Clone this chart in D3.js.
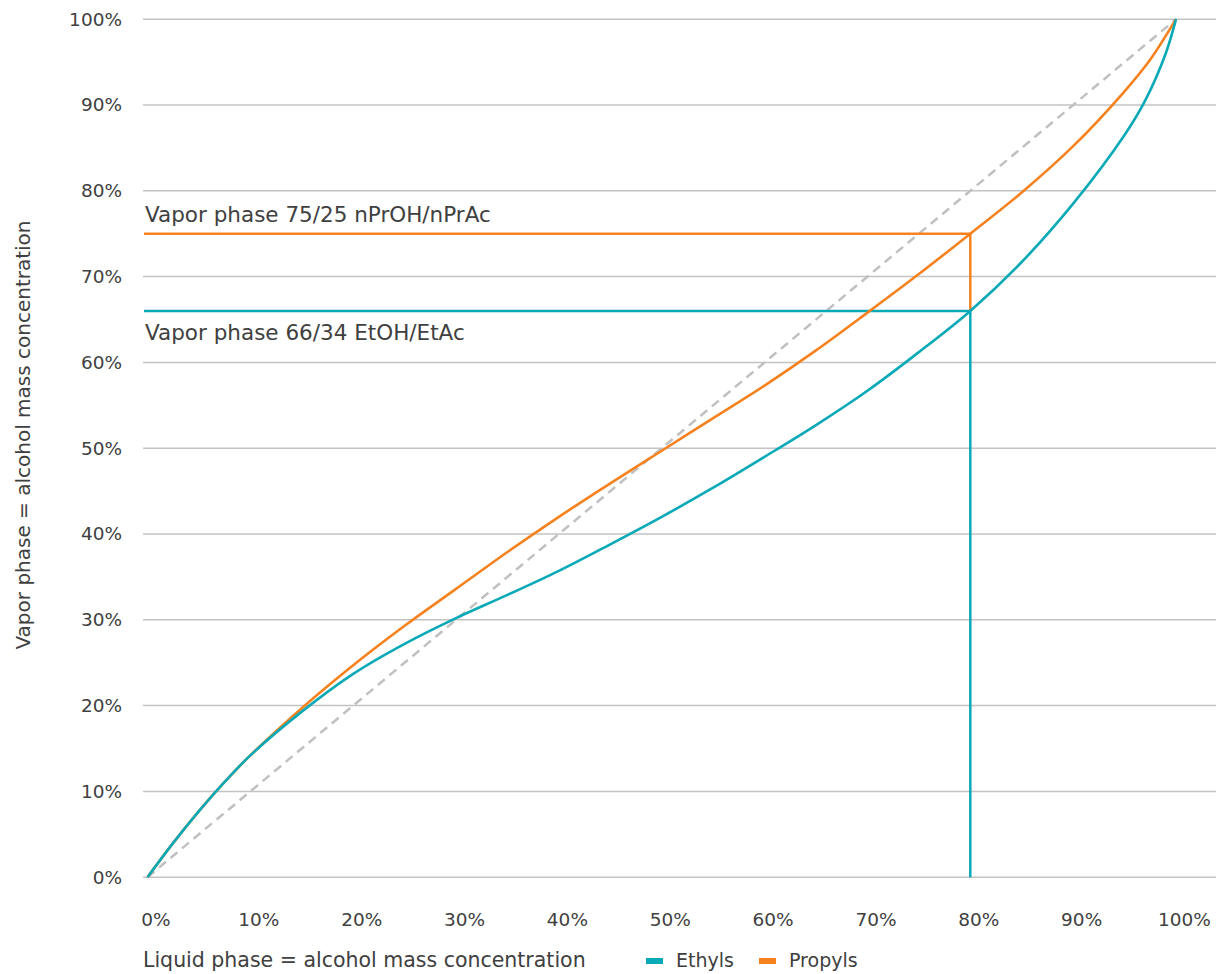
<!DOCTYPE html>
<html>
<head>
<meta charset="utf-8">
<script src="https://cdn.jsdelivr.net/npm/d3@7"></script>
<style>
  html, body { margin: 0; padding: 0; background: #ffffff; }
  svg { display: block; font-family: "DejaVu Sans", sans-serif; }
</style>
</head>
<body>
<svg id="chart" width="1218" height="974"></svg>
<script>
// Liquid-phase alcohol fraction (x) vs vapor-phase alcohol fraction (y)
const ethylLiquid = [0, 0.025, 0.05, 0.075, 0.10, 0.15, 0.20, 0.25, 0.30, 0.35, 0.40, 0.45, 0.50, 0.55, 0.60, 0.65, 0.70, 0.75, 0.80, 0.85, 0.90, 0.95, 0.97, 0.99, 1.0];
const ethylVapor  = [0, 0.040, 0.077, 0.111, 0.142, 0.193, 0.237, 0.272, 0.302, 0.329, 0.357, 0.388, 0.420, 0.454, 0.490, 0.527, 0.567, 0.612, 0.66, 0.717, 0.785, 0.865, 0.905, 0.96, 1.0];

const propylLiquid = [0, 0.025, 0.05, 0.075, 0.10, 0.15, 0.20, 0.25, 0.30, 0.35, 0.40, 0.45, 0.50, 0.55, 0.60, 0.65, 0.70, 0.75, 0.80, 0.85, 0.90, 0.95, 0.975, 1.0];
const propylVapor  = [0, 0.040, 0.077, 0.111, 0.142, 0.197, 0.247, 0.293, 0.336, 0.379, 0.420, 0.459, 0.497, 0.535, 0.573, 0.614, 0.658, 0.703, 0.75, 0.798, 0.852, 0.916, 0.953, 1.0];

// Equal-composition reference line
const diagonal = [0, 1];

// Operating point: liquid 80% gives these vapor compositions
const operatingLiquid = 0.80;
const ethylOperatingVapor = 0.66;
const propylOperatingVapor = 0.75;

const annotationEthyl = "Vapor phase 66/34 EtOH/EtAc";
const annotationPropyl = "Vapor phase 75/25 nPrOH/nPrAc";

const xTicks = [0, 0.1, 0.2, 0.3, 0.4, 0.5, 0.6, 0.7, 0.8, 0.9, 1.0];
const yTicks = [0, 0.1, 0.2, 0.3, 0.4, 0.5, 0.6, 0.7, 0.8, 0.9, 1.0];

const seriesNames = ["Ethyls", "Propyls"];
const seriesColors = ["#0aa9b7", "#f5821f"];

const xTitle = "Liquid phase = alcohol mass concentration";
const yTitle = "Vapor phase = alcohol mass concentration";

// Layout
const plotLeft = 143, plotRight = 1216;
const x = d3.scaleLinear().domain([0, 1]).range([147.5, 1176]);
const y = d3.scaleLinear().domain([0, 1]).range([877.2, 19.2]);

const textColor = "#404040";
const gridColor = "#c3c3c3";

const svg = d3.select("#chart");

// Horizontal gridlines
svg.append("g")
  .selectAll("line")
  .data(yTicks)
  .join("line")
  .attr("x1", plotLeft).attr("x2", plotRight)
  .attr("y1", d => y(d)).attr("y2", d => y(d))
  .attr("stroke", gridColor)
  .attr("stroke-width", 1.5);

// Y axis labels
const yAxis = d3.axisLeft(y).tickValues(yTicks).tickFormat(d3.format(".0%")).tickSize(0).tickPadding(0);
const gy = svg.append("g").attr("transform", "translate(122,0)").call(yAxis);
gy.select(".domain").remove();
gy.selectAll("text")
  .attr("fill", textColor)
  .attr("font-size", 18.5)
  .attr("font-family", "DejaVu Sans, sans-serif");

// X axis labels
const xAxis = d3.axisBottom(x).tickValues(xTicks).tickFormat(d3.format(".0%")).tickSize(0).tickPadding(0);
const gx = svg.append("g").attr("transform", "translate(8,0)").call(xAxis);
gx.select(".domain").remove();
gx.selectAll("text")
  .attr("y", 926)
  .attr("dy", null)
  .attr("fill", textColor)
  .attr("font-size", 18.5)
  .attr("font-family", "DejaVu Sans, sans-serif");

// Diagonal dashed reference
svg.append("line")
  .attr("x1", x(diagonal[0])).attr("y1", y(diagonal[0]))
  .attr("x2", x(diagonal[1])).attr("y2", y(diagonal[1]))
  .attr("stroke", "#c0c0c0")
  .attr("stroke-width", 2.5)
  .attr("stroke-dasharray", "9,6");

// Operating point guide lines
const xLeftData = x.invert(plotLeft + 1);
svg.append("line")
  .attr("x1", x(xLeftData)).attr("x2", x(operatingLiquid))
  .attr("y1", y(propylOperatingVapor)).attr("y2", y(propylOperatingVapor))
  .attr("stroke", seriesColors[1]).attr("stroke-width", 2.5);
svg.append("line")
  .attr("x1", x(operatingLiquid)).attr("x2", x(operatingLiquid))
  .attr("y1", y(propylOperatingVapor)).attr("y2", y(ethylOperatingVapor))
  .attr("stroke", seriesColors[1]).attr("stroke-width", 2.5);
svg.append("line")
  .attr("x1", x(xLeftData)).attr("x2", x(operatingLiquid))
  .attr("y1", y(ethylOperatingVapor)).attr("y2", y(ethylOperatingVapor))
  .attr("stroke", seriesColors[0]).attr("stroke-width", 2.5);
svg.append("line")
  .attr("x1", x(operatingLiquid)).attr("x2", x(operatingLiquid))
  .attr("y1", y(ethylOperatingVapor)).attr("y2", y(0))
  .attr("stroke", seriesColors[0]).attr("stroke-width", 2.5);

// Equilibrium curves
const line = d3.line()
  .x(d => x(d[0]))
  .y(d => y(d[1]))
  .curve(d3.curveCatmullRom.alpha(0.5));

const ethylPts = ethylLiquid.map((v, i) => [v, ethylVapor[i]]);
const propylPts = propylLiquid.map((v, i) => [v, propylVapor[i]]);

svg.append("path")
  .datum(propylPts)
  .attr("d", line)
  .attr("fill", "none")
  .attr("stroke", seriesColors[1])
  .attr("stroke-width", 2.6);

svg.append("path")
  .datum(ethylPts)
  .attr("d", line)
  .attr("fill", "none")
  .attr("stroke", seriesColors[0])
  .attr("stroke-width", 2.6);

// Annotations
svg.append("text")
  .attr("x", 145).attr("y", 222)
  .attr("fill", textColor).attr("font-size", 21.5)
  .text(annotationPropyl);
svg.append("text")
  .attr("x", 145).attr("y", 340)
  .attr("fill", textColor).attr("font-size", 21.5)
  .text(annotationEthyl);

// Axis titles
svg.append("text")
  .attr("x", 143).attr("y", 967)
  .attr("fill", textColor).attr("font-size", 20.5)
  .text(xTitle);

svg.append("text")
  .attr("transform", "translate(30,435) rotate(-90)")
  .attr("text-anchor", "middle")
  .attr("fill", textColor).attr("font-size", 20)
  .text(yTitle);

// Legend
const legendX = [646, 759];
const legend = svg.append("g");
seriesNames.forEach((name, i) => {
  legend.append("rect")
    .attr("x", legendX[i]).attr("y", 958)
    .attr("width", 17).attr("height", 6)
    .attr("fill", seriesColors[i]);
  legend.append("text")
    .attr("x", legendX[i] + 30).attr("y", 967)
    .attr("fill", textColor).attr("font-size", 19)
    .text(name);
});
</script>
</body>
</html>
